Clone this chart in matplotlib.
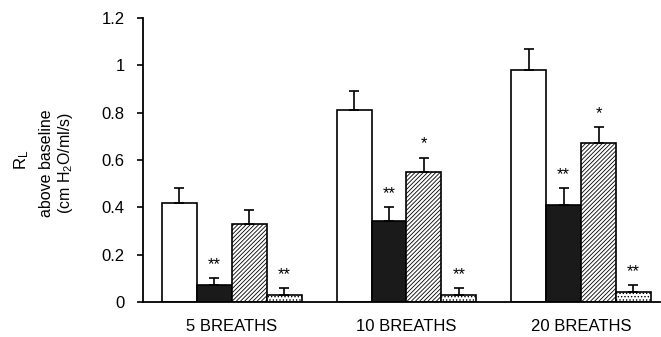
import matplotlib.pyplot as plt
import numpy as np

plt.rcParams['font.family'] = 'sans-serif'
plt.rcParams['font.sans-serif'] = ['Liberation Sans', 'DejaVu Sans']
plt.rcParams['hatch.linewidth'] = 0.6

groups = ['5 BREATHS', '10 BREATHS', '20 BREATHS']
white_vals = [0.42, 0.81, 0.98]
white_err = [0.06, 0.08, 0.09]
black_vals = [0.07, 0.34, 0.41]
black_err = [0.03, 0.06, 0.07]
hatch_vals = [0.33, 0.55, 0.67]
hatch_err = [0.06, 0.06, 0.07]
dot_vals = [0.03, 0.03, 0.04]
dot_err = [0.03, 0.03, 0.03]
black_stars = ['**', '**', '**']
hatch_stars = ['', '*', '*']
dot_stars = ['**', '**', '**']

fig = plt.figure(figsize=(6.61, 3.37), dpi=100)
ax = fig.add_axes([0.216, 0.104, 0.782, 0.843])

x = np.arange(len(groups))
w = 0.2
series = [
    (white_vals, white_err, 'white', None, None),
    (black_vals, black_err, '#1a1a1a', None, black_stars),
    (hatch_vals, hatch_err, 'white', '////////', hatch_stars),
    (dot_vals, dot_err, 'white', '.....', dot_stars),
]
for i, (vals, errs, fc, hatch, stars) in enumerate(series):
    pos = x + (i - 1.5) * w
    ax.bar(pos, vals, w, color=fc, edgecolor='black', hatch=hatch, linewidth=1.2, zorder=2)
    ax.errorbar(pos, vals, yerr=[np.zeros(len(vals)), errs], fmt='none', ecolor='black',
                elinewidth=1.2, capsize=3.5, capthick=1.2, zorder=3)
    if stars:
        for p, v, e, s in zip(pos, vals, errs, stars):
            if s:
                ax.text(p, v + e + 0.025, s, ha='center', va='bottom', fontsize=12)

ax.set_xlim(-0.51, 2.45)
ax.set_ylim(0, 1.2)
ax.set_yticks([0, 0.2, 0.4, 0.6, 0.8, 1, 1.2])
ax.set_yticklabels(['0', '0.2', '0.4', '0.6', '0.8', '1', '1.2'], fontsize=12)
ax.set_xticks(x)
ax.set_xticklabels(groups, fontsize=12)
ax.tick_params(axis='x', length=0, pad=12)
ax.tick_params(axis='y', direction='out', length=4, width=1.2, pad=9)
for s in ['top', 'right']:
    ax.spines[s].set_visible(False)
for s in ['left', 'bottom']:
    ax.spines[s].set_linewidth(1.3)

# y label: R_L set apart from the two lines below it
fig.text(22 / 661, 1 - 160 / 337, '$\\mathregular{R_L}$', rotation=90,
         ha='center', va='center', fontsize=12)
fig.text(57 / 661, 1 - 163 / 337, 'above baseline\n(cm H$\\mathregular{_2}$O/ml/s)',
         rotation=90, ha='center', va='center', fontsize=11.5, linespacing=1.15,
         multialignment='center')

fig.savefig('out.png', dpi=100)
